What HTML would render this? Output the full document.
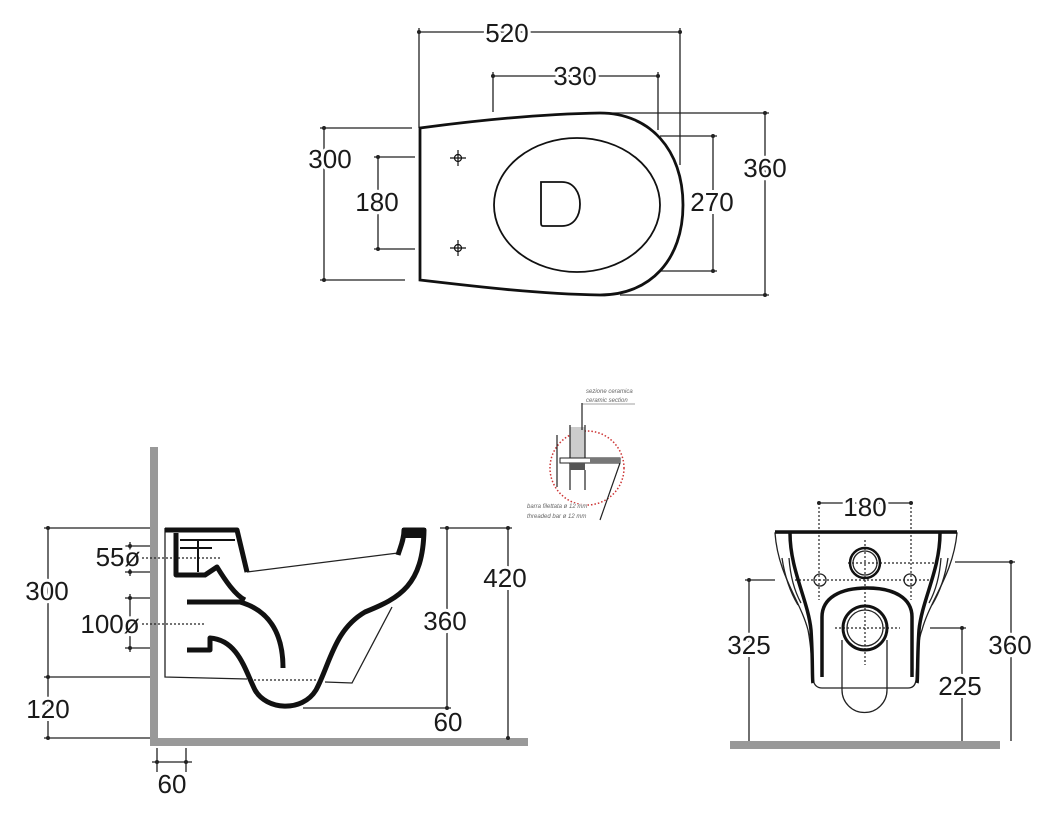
<!DOCTYPE html>
<html><head><meta charset="utf-8"><style>
html,body{margin:0;padding:0;background:#fff}
svg{display:block}
text{font-family:"Liberation Sans",sans-serif;font-size:26px;fill:#1a1a1a;text-anchor:middle;paint-order:stroke;stroke:#fff;stroke-width:6px}
.s{font-size:6px;font-style:italic;fill:#666;stroke-width:1px;text-anchor:start}
</style></head><body>
<svg width="1047" height="819" viewBox="0 0 1047 819" xmlns="http://www.w3.org/2000/svg">
<g stroke="#222" stroke-width="1.3" fill="none">
<path d="M419,32H680 M419,28V128 M680,28V165 M493,76H658 M493,72V112 M658,72V130"/>
<path d="M324,128V280 M320,128H412 M320,280H405 M378,157V249 M374,157H415 M374,249H415"/>
<path d="M713,136V271 M660,136H717 M660,271H717 M765,113V295 M605,113H769 M620,295H769"/>
</g>
<g fill="#222">
<circle cx="419" cy="32" r="2"/><circle cx="680" cy="32" r="2"/><circle cx="493" cy="76" r="2"/><circle cx="658" cy="76" r="2"/>
<circle cx="324" cy="128" r="2"/><circle cx="324" cy="280" r="2"/><circle cx="378" cy="157" r="2"/><circle cx="378" cy="249" r="2"/>
<circle cx="713" cy="136" r="2"/><circle cx="713" cy="271" r="2"/><circle cx="765" cy="113" r="2"/><circle cx="765" cy="295" r="2"/>
</g>
<path d="M420,128 C480,120 540,114 600,113 C650,113 683,150 683,205 C683,260 650,295 600,295 C540,294 480,287 420,280 Z" fill="#fff" stroke="#111" stroke-width="2.8"/>
<ellipse cx="577" cy="205" rx="83" ry="67" fill="none" stroke="#111" stroke-width="1.8"/>
<path d="M541,182 H562 C574,182 580,193 580,204 C580,216 574,226 562,226 H543 C541,226 541,224 541,222 Z" fill="none" stroke="#111" stroke-width="1.8"/>
<g stroke="#111" stroke-width="1.2" fill="none"><circle cx="458" cy="158" r="3.5"/><path d="M450,158H466 M458,150V166"/><circle cx="458" cy="248" r="3.5"/><path d="M450,248H466 M458,240V256"/></g>
<text x="507" y="42">520</text><text x="575" y="85">330</text><text x="330" y="168">300</text><text x="377" y="211">180</text><text x="712" y="211">270</text><text x="765" y="177">360</text>

<rect x="150" y="447" width="8" height="298" fill="#999"/>
<rect x="150" y="738" width="378" height="8" fill="#999"/>
<g stroke="#222" stroke-width="1.3" fill="none">
<path d="M440,528H512 M508,528V738 M447,528V708 M303,708H451 M447,714V720"/>
<path d="M44,528H150 M44,677H150 M44,738H150 M48,528V738"/>
<path d="M125,546H150 M125,572H150 M130,542V576 M125,598H150 M125,648H150 M130,594V652"/>
<path d="M157,748V772 M186,748V772 M152,762H192"/>
<path d="M130,558H222 M130,624H205 M250,680H318" stroke-dasharray="2,2"/>
<path d="M165,528V677 L247,679 M325,682L352,683 L392,607 M247,572 L398,553 M238,530L247,572"/>
</g>
<g fill="#222"><circle cx="508" cy="528" r="2"/><circle cx="508" cy="738" r="2"/><circle cx="447" cy="528" r="2"/><circle cx="447" cy="708" r="2"/>
<circle cx="48" cy="528" r="2"/><circle cx="48" cy="677" r="2"/><circle cx="48" cy="738" r="2"/>
<circle cx="130" cy="546" r="2"/><circle cx="130" cy="572" r="2"/><circle cx="130" cy="598" r="2"/><circle cx="130" cy="648" r="2"/><circle cx="157" cy="762" r="2"/><circle cx="186" cy="762" r="2"/></g>
<g stroke="#111" stroke-width="5" fill="none" stroke-linejoin="round">
<path d="M165,530 H237 L247,572"/>
<path d="M176,533 V575 H205 L217,567 C225,580 235,595 245,600"/>
<path d="M187,602 H240 C268,610 283,632 283,668"/>
<path d="M187,650 H210 V638 C238,640 245,670 255,690 C266,710 302,713 316,690 C330,664 334,630 365,612 C400,598 423,585 424,530 H404 C404,540 400,548 398,555"/>
</g>
<path d="M180,540H235 M180,548H212 M198,540V572" stroke="#111" stroke-width="2" fill="none"/>
<rect x="402" y="528" width="24" height="10" fill="#111"/>
<text x="505" y="587">420</text><text x="445" y="630">360</text><text x="448" y="731">60</text>
<text x="47" y="600">300</text><text x="48" y="718">120</text><text x="118" y="566">55ø</text><text x="110" y="633">100ø</text><text x="172" y="793">60</text>

<circle cx="587" cy="468" r="37" fill="none" stroke="#c33" stroke-width="1.5" stroke-dasharray="1.5,2"/>
<rect x="570" y="427" width="15" height="31" fill="#ccc"/>
<path d="M557,435V487 M570,425V490 M585,425V458 M585,470V490 M582,403V430 M600,520L620,463" stroke="#222" stroke-width="1.2" fill="none"/>
<rect x="560" y="458" width="60" height="5" fill="#fff" stroke="#222" stroke-width="1"/>
<rect x="590" y="458" width="30" height="5" fill="#777"/>
<rect x="570" y="463" width="15" height="7" fill="#555"/>
<path d="M582,404H635" stroke="#444" stroke-width="0.6"/>
<text class="s" x="586" y="393">sezione ceramica</text><text class="s" x="586" y="402">ceramic section</text>
<text class="s" x="527" y="508">barra filettata ø 12 mm</text><text class="s" x="527" y="518">threaded bar ø 12 mm</text>

<rect x="730" y="741" width="270" height="8" fill="#999"/>
<g stroke="#222" stroke-width="1.3" fill="none">
<path d="M819,503H911 M745,580H775 M749,580V741 M955,562H1015 M1011,562V741 M930,628H966 M962,628V741"/>
<path d="M775,533 C778,575 800,600 808,630 C812,650 812,670 813,680 Q815,688 822,688 H908 Q915,688 916,680 C917,660 918,640 922,630 C930,600 953,575 957,533 Z"/>
<path d="M782,558 Q786,585 798,605 M789,558 Q791,585 801,603 M948,558 Q944,585 932,605 M941,558 Q939,585 929,603"/>
<circle cx="865" cy="563" r="12"/><circle cx="820" cy="580" r="6"/><circle cx="910" cy="580" r="6"/><circle cx="865" cy="628" r="18"/>
<path d="M842,640 V690 A22.5,22.5 0 0 0 887,690 V640"/>
</g>
<g stroke="#222" stroke-width="1.2" fill="none" stroke-dasharray="2,2">
<path d="M819,507V600 M911,507V600 M865,540V665 M848,563H935 M795,580H935 M835,628H900"/>
</g>
<g stroke="#111" stroke-width="3.5" fill="none">
<path d="M775,532H957"/>
<path d="M790,533 C790,570 808,600 811,630 C813,660 812,680 813,683"/>
<path d="M940,533 C940,570 922,600 919,630 C917,660 918,680 917,683"/>
<path d="M822,677 V617 C822,598 840,588 867,588 C894,588 912,598 912,617 V677"/>
<circle cx="865" cy="563" r="15" stroke-width="2.5"/><circle cx="865" cy="628" r="22" stroke-width="3"/>
</g>
<g fill="#222"><circle cx="819" cy="503" r="2"/><circle cx="911" cy="503" r="2"/><circle cx="749" cy="580" r="2"/><circle cx="1011" cy="562" r="2"/><circle cx="962" cy="628" r="2"/></g>
<text x="865" y="516">180</text><text x="749" y="654">325</text><text x="1010" y="654">360</text><text x="960" y="695">225</text>
</svg>
</body></html>
